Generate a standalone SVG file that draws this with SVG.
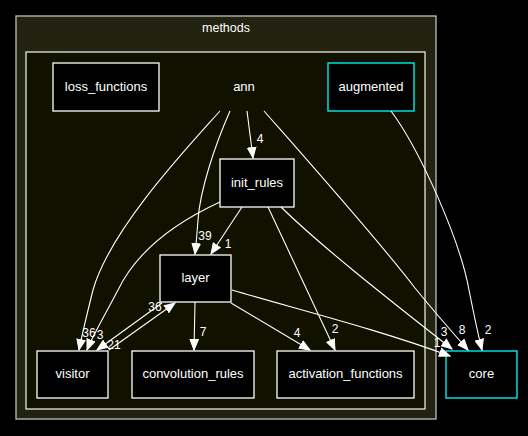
<svg xmlns="http://www.w3.org/2000/svg" width="528" height="436" viewBox="0 0 528 436">
<defs>
<marker id="ah" markerWidth="12" markerHeight="10" refX="11" refY="5" orient="auto" markerUnits="userSpaceOnUse">
<path d="M0.5,0.8 L11,5 L0.5,9.2 z" fill="#ffffff" stroke="#ffffff" stroke-width="1"/>
</marker>
</defs>
<style>
text{font-family:"Liberation Sans",Arial,Helvetica,sans-serif;font-size:13px;fill:#ffffff;text-anchor:middle}
.node rect{fill:#000000;stroke:#ffffff;stroke-width:1.3}
.ext rect{fill:#000000;stroke:#00ffff;stroke-width:1.3}
.edges path{fill:none;stroke:#ffffff;stroke-width:1.1;marker-end:url(#ah)}
.lbl text{font-size:12px}
</style>
<rect width="528" height="436" fill="#000000"/>
<g id="cluster_methods">
<rect x="16" y="16" width="420" height="403" fill="#222211" stroke="#bfbfbf" stroke-width="1.3"/>
<text x="226" y="32" style="font-size:12.5px">methods</text>
</g>
<g id="cluster_ann">
<rect x="26" y="52" width="399" height="357" fill="#111100" stroke="#e6e6e6" stroke-width="1.3"/>
</g>
<g id="node_ann"><text x="244" y="91">ann</text></g>
<g id="node_loss_functions" class="node"><rect x="53" y="63" width="106" height="48"/><text x="106" y="91">loss_functions</text></g>
<g id="node_augmented" class="ext"><rect x="328" y="63" width="86" height="48"/><text x="371" y="91">augmented</text></g>
<g id="node_init_rules" class="node"><rect x="220" y="159" width="74" height="48"/><text x="257" y="187">init_rules</text></g>
<g id="node_layer" class="node"><rect x="160" y="255" width="71" height="47"/><text x="195.5" y="282">layer</text></g>
<g id="node_visitor" class="node"><rect x="37" y="351" width="71" height="47"/><text x="72.5" y="378">visitor</text></g>
<g id="node_convolution_rules" class="node"><rect x="132" y="351" width="122" height="47"/><text x="193" y="378">convolution_rules</text></g>
<g id="node_activation_functions" class="node"><rect x="277" y="351" width="137" height="47"/><text x="345.5" y="378">activation_functions</text></g>
<g id="node_core" class="ext"><rect x="446" y="351" width="71" height="47"/><text x="481.5" y="378">core</text></g>
<g id="edges" class="edges">
<path d="M220,111 C185,150 110,230 93,290 C88,310 83,330 79,350"/>
<path d="M230,111 C215,145 200,190 198,220 C197,235 196,245 195,254"/>
<path d="M247,111 L253,158"/>
<path d="M264,111 C300,152 380,242 415,288 C437,315 452,332 468,350"/>
<path d="M391,111 C420,150 460,240 469,290 C474,315 478,335 482,350"/>
<path d="M242,207 L211,254"/>
<path d="M220,202 C170,225 135,255 118,290 C105,315 93,335 87,350"/>
<path d="M268,207 L335,350"/>
<path d="M281,207 C325,250 400,308 452,349"/>
<path d="M195,302 L194,350"/>
<path d="M231,303 L310,350"/>
<path d="M232,290 C300,310 380,330 450,356"/>
<path d="M162,303 L97,350"/>
<path d="M109,350 L175,303"/>
</g>
<g id="edge_labels" class="lbl">
<text x="260" y="143">4</text>
<text x="205" y="240">39</text>
<text x="228" y="248">1</text>
<text x="89" y="337">36</text>
<text x="100" y="339">3</text>
<text x="114" y="349">21</text>
<text x="155" y="311">36</text>
<text x="203" y="336">7</text>
<text x="297" y="337">4</text>
<text x="335" y="333">2</text>
<text x="444" y="336">3</text>
<text x="437" y="347">1</text>
<text x="462" y="334">8</text>
<text x="488" y="334">2</text>
</g>
</svg>
